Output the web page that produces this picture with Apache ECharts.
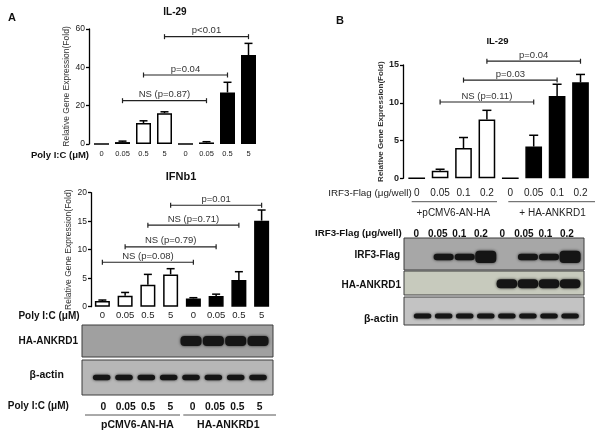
<!DOCTYPE html>
<html><head><meta charset="utf-8">
<script src="https://cdn.jsdelivr.net/npm/echarts@6/dist/echarts.min.js"></script>
<style>html,body{margin:0;padding:0;background:#fff}#c{width:604px;height:438px}</style>
</head><body><div id="c"></div>
<script>
// ---------- data ----------
const polyDoses = ['0','0.05','0.5','5','0','0.05','0.5','5'];
const irfDoses = ['0','0.05','0.1','0.2','0','0.05','0.1','0.2'];
const vectorGroup = [0,0,0,0,1,1,1,1];
const groupNamesA = ['pCMV6-AN-HA','HA-ANKRD1'];
const groupNamesB = ['+pCMV6-AN-HA','+ HA-ANKRD1'];

const il29A_mean = [0, 1.0, 10.9, 16.1, 0, 0.8, 26.9, 46.4];
const il29A_err  = [0, 0.5, 1.2, 0.7, 0, 0.4, 5.3, 6.1];
const il29A_brackets = [[1,5,22.6],[2,6,36],[3,7,56]];
const il29A_bracketLabels = ['NS (p=0.87)','p=0.04','p<0.01'];

const ifnbA_mean = [1.0, 1.93, 3.86, 5.67, 1.46, 1.87, 4.68, 15.1];
const ifnbA_err  = [0.17, 0.57, 1.81, 1.0, 0.12, 0.33, 1.46, 1.86];
const ifnbA_brackets = [[0,4,7.8],[1,5,10.5],[2,6,14.3],[3,7,17.8]];
const ifnbA_bracketLabels = ['NS (p=0.08)','NS (p=0.79)','NS (p=0.71)','p=0.01'];

const il29B_mean = [0, 1.0, 4.0, 7.8, 0, 4.2, 10.9, 12.7];
const il29B_err  = [0, 0.2, 1.4, 1.2, 0, 1.5, 1.55, 1.05];
const il29B_brackets = [[1,5,10.1],[2,6,13.0],[3,7,15.5]];
const il29B_bracketLabels = ['NS (p=0.11)','p=0.03','p=0.04'];

// western blot band strength per lane
const blotA_ha    = [0,0,0,0,1,1,1,1];
const blotA_actin = [1,1,1,1,1,1,1,1];
const blotB_irf3  = [0,1,1,1.9,0,1,1,1.9];
const blotB_ha    = [0,0,0,0,1,1,1,1];
const blotB_actin = [1,1,1,1,1,1,1,1];

// ---------- helpers ----------
const FF = '"Liberation Sans", Arial, sans-serif';
const fillColors = ['#ffffff', '#000000'];

function barSeries(g, means, bw) {
  return {
    type: 'bar', xAxisIndex: g, yAxisIndex: g, barWidth: bw, z: 2,
    data: means.map((v, i) => ({ value: v, itemStyle: { color: fillColors[vectorGroup[i]], borderColor: '#000', borderWidth: 1.5 } })),
    silent: true, animation: false
  };
}
function errSeries(g, means, errs, capHalf) {
  return {
    type: 'custom', xAxisIndex: g, yAxisIndex: g, z: 3, silent: true, animation: false,
    data: means.map((m, i) => [i, m, m + errs[i]]),
    renderItem: function (params, api) {
      if (api.value(2) <= api.value(1)) return null;
      const b = api.coord([api.value(0), api.value(1)]);
      const t = api.coord([api.value(0), api.value(2)]);
      const st = { stroke: '#000', lineWidth: 1.5 };
      return { type: 'group', children: [
        { type: 'line', shape: { x1: b[0], y1: b[1], x2: t[0], y2: t[1] }, style: st },
        { type: 'line', shape: { x1: t[0] - capHalf, y1: t[1], x2: t[0] + capHalf, y2: t[1] }, style: st }
      ]};
    }
  };
}
function bracketSeries(g, brackets, labels, fs) {
  return {
    type: 'custom', xAxisIndex: g, yAxisIndex: g, z: 4, clip: false, silent: true, animation: false,
    data: brackets,
    renderItem: function (params, api) {
      const p1 = api.coord([api.value(0), api.value(2)]);
      const p2 = api.coord([api.value(1), api.value(2)]);
      const st = { stroke: '#222', lineWidth: 1.2 };
      return { type: 'group', children: [
        { type: 'line', shape: { x1: p1[0], y1: p1[1], x2: p2[0], y2: p2[1] }, style: st },
        { type: 'line', shape: { x1: p1[0], y1: p1[1] - 2.5, x2: p1[0], y2: p1[1] + 2.5 }, style: st },
        { type: 'line', shape: { x1: p2[0], y1: p2[1] - 2.5, x2: p2[0], y2: p2[1] + 2.5 }, style: st },
        { type: 'text', x: (p1[0] + p2[0]) / 2, y: p1[1] - 1,
          style: { text: labels[params.dataIndex], font: fs + 'px ' + FF, fill: '#333',
                   align: 'center', verticalAlign: 'bottom', textAlign: 'center', textVerticalAlign: 'bottom' } }
      ]};
    }
  };
}
function bandSeries(g, strengths, bw, bh, ypos) {
  return {
    type: 'custom', xAxisIndex: g, yAxisIndex: g, silent: true, animation: false,
    data: strengths.map((s, i) => [i, s]),
    renderItem: function (params, api) {
      const s = api.value(1);
      if (!s) return null;
      const c = api.coord([api.value(0), ypos]);
      const h = bh * s, w = bw * (s > 1 ? 1.05 : 1);
      return { type: 'rect', shape: { x: c[0] - w / 2, y: c[1] - h / 2, width: w, height: h, r: Math.min(h / 2, 4) },
               style: { fill: '#151515', shadowBlur: 3, shadowColor: 'rgba(0,0,0,0.75)' } };
    }
  };
}
function chartY(g, max, interval, offset, labelFont, nameFont, nameGap, bold) {
  return {
    type: 'value', gridIndex: g, min: 0, max: max, interval: interval, offset: offset,
    axisLine: { show: true, lineStyle: { color: '#000', width: 1.3 } },
    axisTick: { show: true, length: 3, lineStyle: { color: '#000', width: 1.3 } },
    splitLine: { show: false },
    axisLabel: { fontSize: labelFont, fontFamily: FF, color: '#222', margin: 4, fontWeight: bold ? 'bold' : 'normal' },
    name: 'Relative Gene Expression(Fold)', nameLocation: 'middle', nameRotate: 90, nameGap: nameGap,
    nameTextStyle: { fontSize: nameFont, fontFamily: FF, color: '#333', fontWeight: bold ? 'bold' : 'normal' }
  };
}
function chartX(g, cats, fs, margin, family) {
  return {
    type: 'category', gridIndex: g, data: cats,
    axisLine: { show: false }, axisTick: { show: false }, splitLine: { show: false },
    axisLabel: { interval: 0, fontSize: fs, fontFamily: family || FF, color: '#222', margin: margin, verticalAlign: 'middle' }
  };
}
function blotAxes(g, min, max) {
  return [
    { type: 'value', gridIndex: g, min: min, max: max, show: false },
    { type: 'value', gridIndex: g, min: 0, max: 1, show: false }
  ];
}
function laneLabelAxes(g, cats, fs) {
  return [
    { type: 'category', gridIndex: g, data: cats, axisLine: { show: false }, axisTick: { show: false },
      axisLabel: { interval: 0, fontSize: fs, fontFamily: FF, fontWeight: 'bold', color: '#111', margin: 0, verticalAlign: 'middle' } },
    { type: 'value', gridIndex: g, show: false }
  ];
}
function txt(x, y, text, font, align, fill) {
  return { type: 'text', x: x, y: y, silent: true,
    style: { text: text, font: font, fill: fill || '#111', align: align || 'center', verticalAlign: 'middle',
             textAlign: align || 'center', textVerticalAlign: 'middle' } };
}
function hline(x1, x2, y) {
  return { type: 'line', silent: true, shape: { x1: x1, y1: y, x2: x2, y2: y }, style: { stroke: '#555', lineWidth: 1 } };
}

const blotBorder = { show: true, borderColor: '#3c3c3c', borderWidth: 1 };
const grids = [
  { left: 91, top: 29, width: 168, height: 115 },            // 0 A IL-29
  { left: 91, top: 192.7, width: 182, height: 114 },         // 1 A IFNb1
  { left: 405, top: 65, width: 187.2, height: 113.3 },       // 2 B IL-29
  Object.assign({ left: 82, top: 325, width: 191, height: 32, backgroundColor: '#a0a0a0' }, blotBorder),  // 3
  Object.assign({ left: 82, top: 360, width: 191, height: 35, backgroundColor: '#b7b7b7' }, blotBorder),  // 4
  Object.assign({ left: 404, top: 238, width: 180, height: 32, backgroundColor: '#a7a7a7' }, blotBorder), // 5
  Object.assign({ left: 404, top: 271, width: 180, height: 24, backgroundColor: '#c7cabd' }, blotBorder), // 6
  Object.assign({ left: 404, top: 297, width: 180, height: 28, backgroundColor: '#c3c3c3' }, blotBorder), // 7
  { left: 92.3, top: 406, width: 178.5, height: 1 },         // 8 lane labels A
  { left: 405.5, top: 233, width: 172.2, height: 1 }         // 9 lane labels B
];

const xAxes = [
  chartX(0, polyDoses, 7.5, 10, '"Liberation Sans Narrow", "Liberation Sans", Arial, sans-serif'),
  chartX(1, polyDoses, 9.5, 8.3),
  chartX(2, irfDoses, 10, 15),
  blotAxes(3, -0.88, 7.67)[0], blotAxes(4, -0.88, 7.67)[0],
  blotAxes(5, -0.88, 7.66)[0], blotAxes(6, -0.88, 7.66)[0], blotAxes(7, -0.88, 7.66)[0],
  laneLabelAxes(8, polyDoses, 10.3)[0], laneLabelAxes(9, irfDoses, 10)[0]
];
const yAxes = [
  chartY(0, 60, 20, 2, 8.5, 8.5, 14, false),
  chartY(1, 20, 5, 0, 8.5, 8.5, 17, false),
  chartY(2, 15, 5, 2, 9, 8, 9, true),
  blotAxes(3, -0.88, 7.67)[1], blotAxes(4, -0.88, 7.67)[1],
  blotAxes(5, -0.88, 7.66)[1], blotAxes(6, -0.88, 7.66)[1], blotAxes(7, -0.88, 7.66)[1],
  laneLabelAxes(8, polyDoses, 10.3)[1], laneLabelAxes(9, irfDoses, 10)[1]
];

const series = [
  barSeries(0, il29A_mean, 15), errSeries(0, il29A_mean, il29A_err, 4), bracketSeries(0, il29A_brackets, il29A_bracketLabels, 9.5),
  barSeries(1, ifnbA_mean, 15), errSeries(1, ifnbA_mean, ifnbA_err, 4), bracketSeries(1, ifnbA_brackets, ifnbA_bracketLabels, 9.5),
  barSeries(2, il29B_mean, 16.7), errSeries(2, il29B_mean, il29B_err, 4.5), bracketSeries(2, il29B_brackets, il29B_bracketLabels, 9.5),
  bandSeries(3, blotA_ha, 21, 10, 0.5),
  bandSeries(4, blotA_actin, 17.5, 5.5, 0.5),
  bandSeries(5, blotB_irf3, 20, 6.5, 0.41),
  bandSeries(6, blotB_ha, 20.5, 9, 0.47),
  bandSeries(7, blotB_actin, 17.5, 5, 0.32)
];

const B = 'bold ';
const graphics = [
  txt(12, 18, 'A', B + '11px ' + FF),
  txt(340, 21, 'B', B + '11px ' + FF),
  txt(175, 12.5, 'IL-29', B + '10px ' + FF),
  txt(181, 176.7, 'IFNb1', B + '11px ' + FF),
  txt(497.5, 41, 'IL-29', B + '9.5px ' + FF),
  txt(60, 155.5, 'Poly I:C (μM)', B + '9.5px ' + FF),
  txt(49, 316.5, 'Poly I:C (μM)', B + '10px ' + FF),
  txt(38.3, 406.7, 'Poly I:C (μM)', B + '10px ' + FF),
  txt(48.3, 341, 'HA-ANKRD1', B + '10px ' + FF),
  txt(46.7, 375, 'β-actin', B + '10.5px ' + FF),
  hline(85, 180, 415), hline(183.3, 276, 415),
  txt(137.5, 425, groupNamesA[0], B + '10.5px ' + FF),
  txt(228.3, 425, groupNamesA[1], B + '10.5px ' + FF),
  txt(411.7, 193.3, 'IRF3-Flag (μg/well)', '9.8px ' + FF, 'right', '#222'),
  hline(411.7, 497, 201.7), hline(508.3, 595, 201.7),
  txt(453.3, 213.3, groupNamesB[0], '10px ' + FF, 'center', '#222'),
  txt(552.5, 213.3, groupNamesB[1], '10px ' + FF, 'center', '#222'),
  txt(358.3, 233.7, 'IRF3-Flag (μg/well)', B + '9.75px ' + FF),
  txt(400, 255.3, 'IRF3-Flag', B + '10px ' + FF, 'right'),
  txt(401, 285.3, 'HA-ANKRD1', B + '10px ' + FF, 'right'),
  txt(398.3, 319.3, 'β-actin', B + '10.5px ' + FF, 'right')
];

const chart = echarts.init(document.getElementById('c'), null, { renderer: 'canvas' });
chart.setOption({
  animation: false,
  backgroundColor: '#ffffff',
  textStyle: { fontFamily: FF },
  grid: grids,
  xAxis: xAxes,
  yAxis: yAxes,
  series: series,
  graphic: graphics
});
</script>
</body></html>
